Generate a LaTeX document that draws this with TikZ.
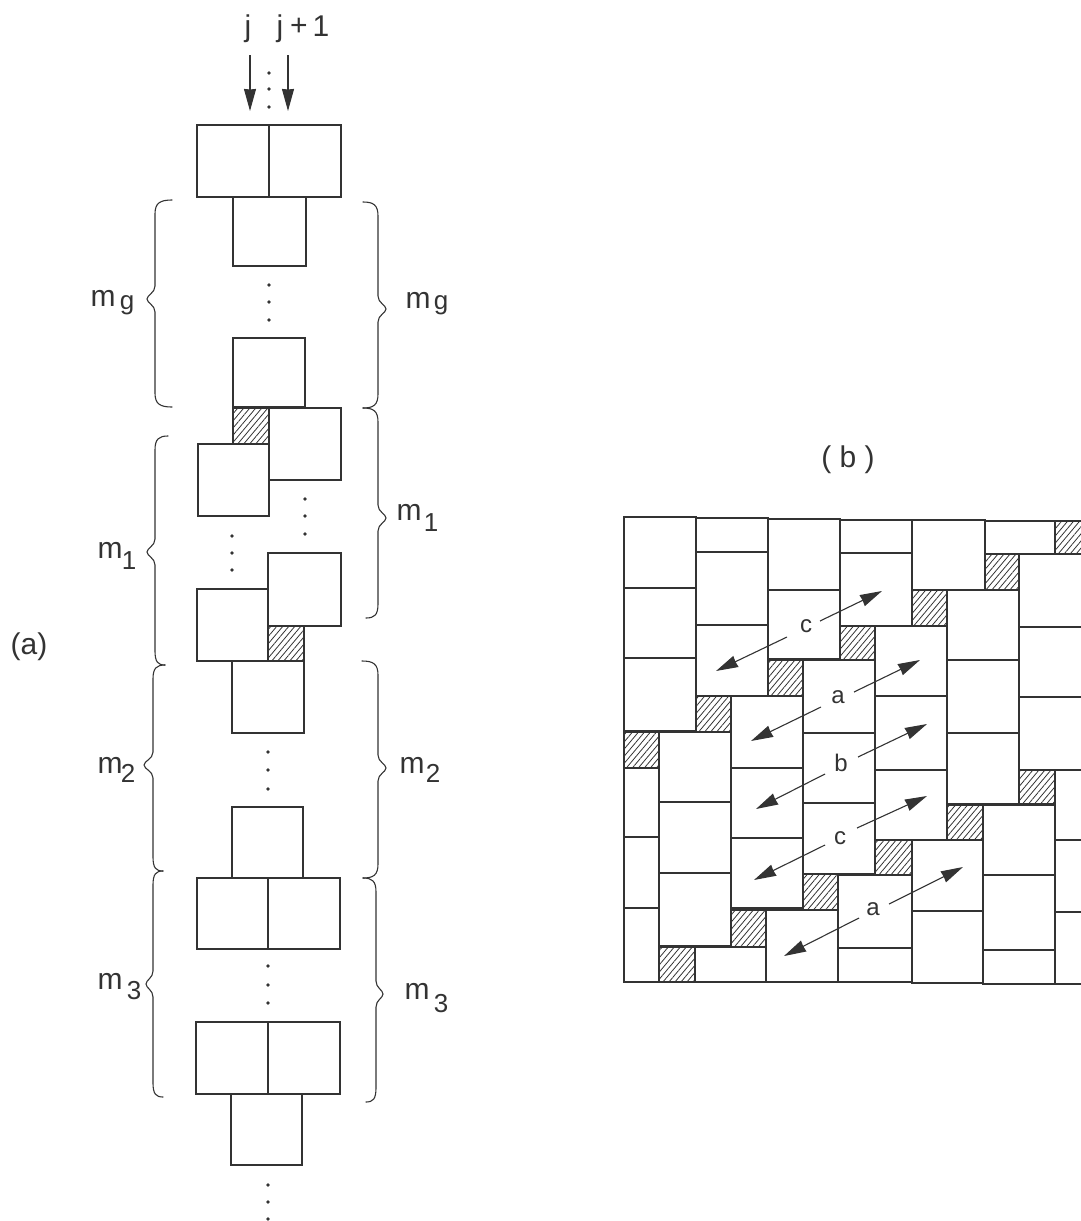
\documentclass[tikz,border=0pt]{standalone}
\usepackage{fontspec}
\setmainfont{Liberation Sans}
\usetikzlibrary{arrows.meta,patterns.meta}
\definecolor{ink}{gray}{0.2}
\tikzset{
  cell/.style={draw=ink,line width=1.4pt,fill=white,line join=miter},
  hatchcell/.style={draw=ink,line width=1.4pt,pattern={Lines[angle=50,distance=4.6pt,line width=0.8pt]},pattern color=ink},
  bracket/.style={draw=ink,line width=1.1pt,line cap=round},
  dotmark/.style={fill=ink,draw=none},
  bigtxt/.style={inner sep=0pt,outer sep=0pt,text=ink,font=\fontsize{30}{30}\selectfont},
  subtxt/.style={inner sep=0pt,outer sep=0pt,text=ink,font=\fontsize{26}{26}\selectfont},
  smalltxt/.style={inner sep=0pt,outer sep=0pt,text=ink,font=\fontsize{24}{24}\selectfont},
  arrowline/.style={draw=ink,line width=1.1pt,-{Stealth[length=22pt,width=12pt,inset=0.5pt]}}
}
\newcommand\cbrace[7]{% xline, tipx, tipy, topx, topy, botx, boty
  \draw[bracket] (#4,#5) .. controls ({#1+0.3*(#4-#1)},#5) and (#1,{#5+3}) .. (#1,{#5+14})
    -- (#1,{#3-13}) .. controls (#1,{#3-6}) and (#2,{#3-4}) .. (#2,#3)
    .. controls (#2,{#3+4}) and (#1,{#3+6}) .. (#1,{#3+13})
    -- (#1,{#7-14}) .. controls (#1,{#7-3}) and ({#1+0.3*(#6-#1)},#7) .. (#6,#7);}
\newcommand\vdotsat[4]{\foreach \yy in {#2,#3,#4} \fill[dotmark] (#1,\yy) circle (1.8);}
\begin{document}
\begin{tikzpicture}[x=1pt,y=-1pt]
\useasboundingbox (0,0) rectangle (1081,1221);
% ---------- panel (a): cells
\foreach \xa/\ya/\xb/\yb in {
  197/125/269/197, 269/125/341/197,
  233/197/306/266, 233/338/305/407,
  269/408/341/480, 198/444/269/516,
  268/553/341/626, 197/589/268/661,
  232/661/304/733, 232/807/303/878,
  197/878/268/949, 268/878/340/949,
  196/1022/268/1094, 268/1022/340/1094,
  231/1094/302/1165}
  \draw[cell] (\xa,\ya) rectangle (\xb,\yb);
\draw[hatchcell] (233,408) rectangle (269,444);
\draw[hatchcell] (268,626) rectangle (304,661);
% dots
\vdotsat{269}{73}{89}{107}
\vdotsat{269}{285}{302}{320}
\vdotsat{305}{499}{516}{534}
\vdotsat{232}{536}{553}{570}
\vdotsat{268}{752}{770}{789}
\vdotsat{268}{966}{985}{1003}
\vdotsat{268}{1185}{1202}{1219}
% top arrows and labels
\node[bigtxt] (jA) at (248,29) {j};
\node[bigtxt] (jB) at (280,29) {j};
\node[bigtxt] (plus) at (299,27) {+};
\node[bigtxt] (one) at (321,26) {1};
\coordinate (jAs) at (250,55);
\coordinate (jAe) at (250,111);
\coordinate (jBs) at (288,55);
\coordinate (jBe) at (288,111);
\draw[arrowline] (jAs) -- (jAe);
\draw[arrowline] (jBs) -- (jBe);
% braces
\cbrace{155}{147}{299}{172}{200}{172}{407}
\cbrace{378}{386}{309}{363}{202}{363}{408}
\cbrace{155}{147}{552}{168}{436}{165}{665}
\cbrace{378}{386}{518}{363}{408}{366}{618}
\cbrace{153}{144}{765}{165}{665}{163}{871}
\cbrace{378}{386}{768}{362}{661}{363}{878}
\cbrace{153}{146}{984}{163}{871}{163}{1097}
\cbrace{376}{383}{994}{363}{878}{366}{1102}
% m labels
\node[bigtxt] (mgL) at (103,298) {m};
\node[subtxt] (mgLs) at (127,305) {g};
\node[bigtxt] (mgR) at (418,300) {m};
\node[subtxt] (mgRs) at (441,305) {g};
\node[bigtxt] (m1L) at (110,550) {m};
\node[subtxt] (m1Ls) at (129,561) {1};
\node[bigtxt] (m1R) at (409,512) {m};
\node[subtxt] (m1Rs) at (431,523) {1};
\node[bigtxt] (m2L) at (110,765) {m};
\node[subtxt] (m2Ls) at (128,773) {2};
\node[bigtxt] (m2R) at (412,765) {m};
\node[subtxt] (m2Rs) at (433,773) {2};
\node[bigtxt] (m3L) at (110,981) {m};
\node[subtxt] (m3Ls) at (134,991) {3};
\node[bigtxt] (m3R) at (417,991) {m};
\node[subtxt] (m3Rs) at (441,1004) {3};
\node[bigtxt] (capa) at (29,647) {(a)};
\node[bigtxt] (capb) at (848,460) {( b )};
% ---------- panel (b)
\begin{scope}
\clip (600,500) rectangle (1081,1000);
\foreach \xa/\xb/\ya/\yb in {
  624/696/517/588, 624/696/588/658, 624/696/658/731,
  696/768/518/552, 696/768/552/625, 696/768/625/696,
  768/840/519/590, 768/840/590/659,
  840/912/520/553, 840/912/553/626,
  912/985/520/590,
  985/1055/521/554,
  1019/1095/554/627, 1019/1095/627/697, 1019/1095/697/770,
  947/1019/590/660, 947/1019/660/733, 947/1019/733/804,
  875/947/626/696, 875/947/696/770, 875/947/770/840,
  803/875/660/733, 803/875/733/803, 803/875/803/874,
  731/803/696/768, 731/803/768/838, 731/803/838/908,
  659/731/732/802, 659/731/802/873, 659/731/873/946,
  624/659/768/837, 624/659/837/908, 624/659/908/982,
  695/766/947/982, 766/838/910/982,
  838/912/875/948, 838/912/948/982,
  912/983/840/911, 912/983/911/983,
  983/1055/805/875, 983/1055/875/950, 983/1055/950/984,
  1055/1095/770/840, 1055/1095/840/912, 1055/1095/912/984}
  \draw[cell] (\xa,\ya) rectangle (\xb,\yb);
\foreach \xa/\ya/\xb/\yb in {
  1055/521/1095/554, 985/554/1019/590, 912/590/947/626,
  840/626/875/660, 768/660/803/696, 696/696/731/732,
  624/732/659/768, 659/947/695/982, 731/910/766/947,
  803/874/838/910, 875/840/912/875, 947/805/983/840,
  1019/770/1055/804}
  \draw[hatchcell] (\xa,\ya) rectangle (\xb,\yb);
\end{scope}
% labels with double arrows
\node[smalltxt] (c1) at (806,626) {c};
\coordinate (c1a) at (820,621); \coordinate (c1b) at (882,591);
\coordinate (c1c) at (787,637); \coordinate (c1d) at (716,671);
\draw[arrowline] (c1a) -- (c1b); \draw[arrowline] (c1c) -- (c1d);
\node[smalltxt] (a1) at (838,697) {a};
\coordinate (a1a) at (854,692); \coordinate (a1b) at (920,660);
\coordinate (a1c) at (821,707); \coordinate (a1d) at (751,741);
\draw[arrowline] (a1a) -- (a1b); \draw[arrowline] (a1c) -- (a1d);
\node[smalltxt] (b1) at (841,763) {b};
\coordinate (b1a) at (858,757); \coordinate (b1b) at (927,724);
\coordinate (b1c) at (825,774); \coordinate (b1d) at (756,809);
\draw[arrowline] (b1a) -- (b1b); \draw[arrowline] (b1c) -- (b1d);
\node[smalltxt] (c2) at (840,838) {c};
\coordinate (c2a) at (857,828); \coordinate (c2b) at (927,796);
\coordinate (c2c) at (825,845); \coordinate (c2d) at (754,880);
\draw[arrowline] (c2a) -- (c2b); \draw[arrowline] (c2c) -- (c2d);
\node[smalltxt] (a2) at (873,909) {a};
\coordinate (a2a) at (889,904); \coordinate (a2b) at (963,867);
\coordinate (a2c) at (859,918); \coordinate (a2d) at (784,956);
\draw[arrowline] (a2a) -- (a2b); \draw[arrowline] (a2c) -- (a2d);
\end{tikzpicture}
\end{document}
